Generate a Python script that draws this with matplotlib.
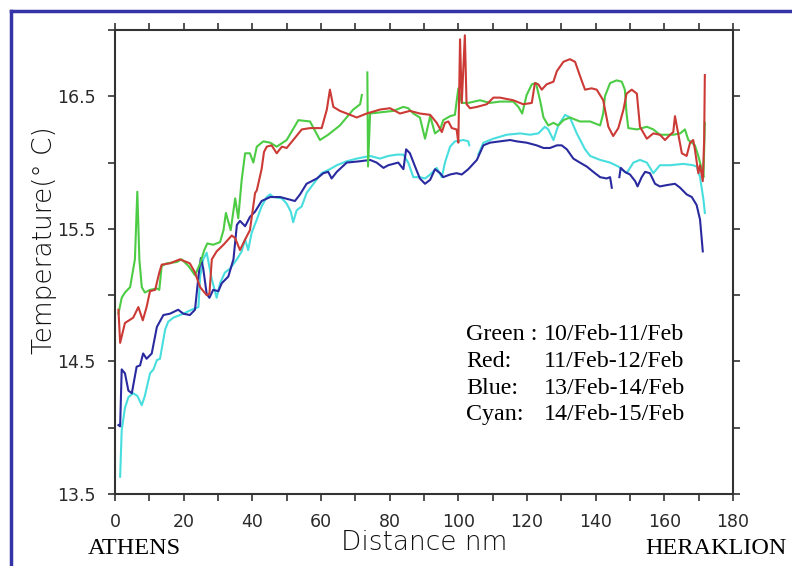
"""Sea surface temperature along the Athens - Heraklion route."""
import numpy as np
import matplotlib
matplotlib.use("Agg")
import matplotlib.pyplot as plt
from matplotlib.lines import Line2D

# distance (nm) / temperature (deg C)
green_x1 = [1.0, 1.95, 2.9, 4.4, 5.8, 6.5, 7.1, 7.8, 8.7, 10.2, 12.2, 12.9, 13.6, 15.1, 18.0,
            19.4, 21.4, 23.3, 24.8, 26.0, 26.9, 28.6, 30.6, 31.6, 32.3, 33.7, 35.0, 35.9, 36.9,
            37.9, 39.3, 40.3, 41.3, 43.2, 45.2, 47.1, 50.0, 53.4, 56.8, 59.7, 62.1, 65.5, 69.4,
            71.4, 71.9]
green_y1 = [14.86, 14.98, 15.02, 15.06, 15.27, 15.78, 15.27, 15.06, 15.02, 15.04, 15.05, 15.04,
            15.22, 15.24, 15.25, 15.27, 15.22, 15.15, 15.24, 15.34, 15.39, 15.38, 15.40, 15.49,
            15.62, 15.49, 15.73, 15.58, 15.87, 16.07, 16.07, 16.00, 16.12, 16.16, 16.15, 16.12,
            16.17, 16.32, 16.31, 16.17, 16.21, 16.28, 16.40, 16.44, 16.51]
green_x2 = [73.5, 73.7, 74.3, 81.1, 84.0, 85.4, 86.9, 88.8, 90.3, 91.8, 93.2, 94.7, 95.6, 97.6,
            99.0, 100.0, 101.0, 102.9, 106.3, 109.2, 112.1, 116.0, 117.5, 118.6, 119.9, 121.4,
            122.6, 123.8, 124.8, 126.2, 127.7, 129.1, 130.6, 132.5, 135.4, 138.4, 141.3, 142.2,
            142.7, 144.2, 146.1, 147.6, 148.5, 149.0, 149.5, 152.0, 154.9, 156.8, 158.7, 162.6,
            164.6, 166.0, 167.0, 168.0, 168.9, 169.9, 170.9, 171.4, 171.8]
green_y2 = [16.68, 15.97, 16.37, 16.39, 16.42, 16.41, 16.37, 16.34, 16.18, 16.35, 16.22, 16.25,
            16.32, 16.35, 16.36, 16.56, 16.45, 16.45, 16.47, 16.45, 16.46, 16.46, 16.42, 16.37,
            16.51, 16.59, 16.60, 16.47, 16.34, 16.28, 16.30, 16.28, 16.32, 16.34, 16.31, 16.31,
            16.28, 16.37, 16.50, 16.60, 16.62, 16.61, 16.55, 16.37, 16.26, 16.25, 16.27, 16.25,
            16.21, 16.21, 16.22, 16.25, 16.17, 16.15, 16.13, 16.05, 15.95, 15.89, 16.30]

red_x = [1.0, 1.5, 2.9, 5.3, 6.8, 8.1, 9.2, 10.2, 11.7, 12.9, 13.6, 16.0, 18.9, 21.8, 23.3,
         24.8, 26.7, 27.5, 28.2, 29.6, 31.6, 34.0, 35.0, 36.4, 37.9, 39.3, 40.8, 41.3, 42.7,
         43.4, 44.2, 45.6, 47.1, 48.6, 50.0, 51.9, 54.4, 56.8, 60.2, 61.7, 62.6, 63.6, 65.5,
         68.5, 70.4, 73.3, 77.2, 80.1, 83.0, 85.9, 88.8, 91.8, 93.7, 95.2, 96.1, 97.1, 98.1,
         99.5, 100.0, 100.5, 101.0, 101.9, 102.4, 103.4, 105.4, 108.3, 110.2, 112.1, 116.0,
         118.9, 121.4, 122.3, 123.3, 124.3, 125.7, 127.7, 128.7, 130.6, 132.5, 134.0, 135.9,
         136.9, 138.8, 140.3, 142.2, 143.7, 145.1, 146.6, 148.1, 149.0, 150.5, 152.0, 152.9,
         154.9, 156.8, 158.7, 160.2, 161.7, 162.6, 163.1, 164.1, 165.1, 166.5, 167.5, 168.4,
         168.9, 169.9, 170.4, 171.2, 171.6, 171.8]
red_y = [14.89, 14.64, 14.79, 14.83, 14.91, 14.81, 14.91, 15.03, 15.04, 15.17, 15.23, 15.24,
         15.27, 15.24, 15.17, 15.06, 15.00, 15.01, 15.27, 15.33, 15.38, 15.45, 15.43, 15.34,
         15.42, 15.49, 15.77, 15.79, 15.95, 16.08, 16.12, 16.13, 16.07, 16.12, 16.11, 16.17,
         16.25, 16.26, 16.26, 16.40, 16.55, 16.42, 16.39, 16.36, 16.34, 16.37, 16.40, 16.41,
         16.37, 16.39, 16.37, 16.36, 16.30, 16.23, 16.30, 16.31, 16.26, 16.25, 16.15, 16.93,
         16.45, 16.96, 16.44, 16.41, 16.42, 16.44, 16.49, 16.49, 16.47, 16.44, 16.45, 16.60,
         16.59, 16.55, 16.59, 16.61, 16.69, 16.76, 16.78, 16.76, 16.62, 16.55, 16.56, 16.55,
         16.47, 16.27, 16.20, 16.26, 16.40, 16.52, 16.55, 16.52, 16.27, 16.18, 16.22, 16.21,
         16.17, 16.21, 16.23, 16.35, 16.21, 16.07, 16.05, 16.15, 16.17, 16.10, 15.92, 15.98,
         15.86, 16.17, 16.66]

blue_x1 = [1.0, 1.5, 1.95, 2.9, 3.9, 4.9, 6.3, 7.3, 8.2, 9.2, 10.7, 12.2, 14.1, 16.0, 18.4,
           19.9, 21.8, 23.3, 24.3, 25.0, 25.7, 26.7, 27.5, 28.6, 30.1, 31.1, 33.0, 34.5, 35.5,
           36.4, 37.9, 39.3, 40.8, 42.7, 45.2, 48.1, 51.0, 52.4, 53.9, 55.8, 57.3, 58.8, 60.7,
           62.1, 63.1, 64.6, 67.5, 71.4, 74.3, 76.2, 78.2, 79.6, 82.5, 84.0, 84.8, 85.9, 87.4,
           88.8, 90.3, 91.8, 93.2, 94.7, 95.6, 97.6, 99.5, 101.0, 102.9, 105.4, 107.3, 109.2,
           112.1, 115.1, 117.0, 119.9, 122.8, 124.8, 126.7, 128.7, 130.1, 131.6, 133.5, 135.4,
           137.4, 139.3, 141.3, 143.2, 144.2, 144.7]
blue_y1 = [14.02, 14.01, 14.44, 14.41, 14.28, 14.26, 14.46, 14.47, 14.56, 14.52, 14.56, 14.76,
           14.85, 14.86, 14.89, 14.86, 14.85, 14.89, 15.14, 15.28, 15.20, 15.01, 14.98, 15.04,
           15.03, 15.09, 15.14, 15.27, 15.53, 15.56, 15.52, 15.59, 15.63, 15.71, 15.74, 15.74,
           15.72, 15.71, 15.76, 15.84, 15.86, 15.88, 15.92, 15.93, 15.88, 15.93, 16.00, 16.01,
           16.02, 16.00, 15.96, 15.98, 16.00, 15.95, 16.10, 16.07, 15.97, 15.88, 15.84, 15.87,
           15.95, 15.92, 15.89, 15.91, 15.92, 15.91, 15.95, 16.02, 16.13, 16.15, 16.16, 16.17,
           16.16, 16.15, 16.13, 16.11, 16.11, 16.13, 16.13, 16.10, 16.03, 16.00, 15.97, 15.93,
           15.89, 15.88, 15.89, 15.81]
blue_x2 = [146.9, 147.3, 148.5, 150.0, 151.5, 152.2, 153.4, 154.4, 155.8, 157.3, 158.7, 160.7,
           163.1, 164.6, 166.5, 168.0, 169.4, 170.4, 171.2]
blue_y2 = [15.89, 15.96, 15.93, 15.91, 15.86, 15.82, 15.89, 15.93, 15.92, 15.84, 15.82, 15.83,
           15.84, 15.81, 15.76, 15.74, 15.68, 15.57, 15.33]

cyan_x1 = [1.5, 1.95, 2.9, 3.9, 5.3, 6.5, 7.8, 8.7, 10.2, 11.2, 12.2, 13.1, 14.6, 15.5, 17.0,
           19.9, 22.3, 24.3, 24.8, 25.7, 26.7, 28.2, 29.6, 30.6, 32.0, 33.5, 35.5, 36.9, 37.9,
           38.8, 39.8, 41.3, 42.7, 44.2, 45.2, 46.1, 48.6, 50.0, 51.2, 51.9, 52.9, 54.4, 55.8,
           57.8, 60.2, 62.6, 64.6, 67.5, 70.4, 74.3, 77.2, 79.6, 82.1, 84.0, 85.4, 86.9, 88.8,
           90.3, 91.8, 93.7, 95.2, 96.1, 97.6, 99.0, 101.5, 102.9, 103.2]
cyan_y1 = [13.63, 13.98, 14.15, 14.23, 14.26, 14.24, 14.17, 14.24, 14.41, 14.44, 14.51, 14.52,
           14.74, 14.80, 14.83, 14.86, 14.89, 14.91, 15.14, 15.27, 15.32, 15.12, 14.98, 15.09,
           15.17, 15.20, 15.27, 15.33, 15.42, 15.34, 15.47, 15.57, 15.67, 15.74, 15.76, 15.74,
           15.73, 15.69, 15.63, 15.55, 15.64, 15.67, 15.77, 15.84, 15.92, 15.95, 15.98, 16.01,
           16.03, 16.05, 16.03, 16.05, 16.06, 16.06, 16.00, 15.89, 15.89, 15.88, 15.91, 15.96,
           15.89, 16.00, 16.12, 16.16, 16.17, 16.16, 16.13]
cyan_x2 = [105.8, 107.3, 110.2, 114.1, 118.0, 120.9, 123.3, 125.2, 126.2, 127.7, 129.1, 131.1,
           132.5, 134.5, 136.9, 138.4, 141.3, 144.2, 146.6, 149.0, 151.0, 152.9, 154.9, 156.8,
           158.7, 161.7, 165.5, 168.4, 169.4, 170.4, 171.4, 171.8]
cyan_y2 = [16.06, 16.15, 16.18, 16.21, 16.22, 16.21, 16.22, 16.27, 16.25, 16.17, 16.28, 16.36,
           16.34, 16.22, 16.10, 16.05, 16.02, 16.00, 15.97, 15.92, 16.00, 16.02, 16.00, 15.92,
           15.98, 15.98, 15.99, 15.98, 15.97, 15.89, 15.72, 15.62]

legend_names = ["Green :", "Red:", "Blue:", "Cyan:"]
legend_dates = ["10/Feb-11/Feb", "11/Feb-12/Feb", "13/Feb-14/Feb", "14/Feb-15/Feb"]

GREEN = "#4ccc44"
RED = "#cc3a36"
BLUE = "#2a2aa0"
CYAN = "#48dede"

fig = plt.figure(figsize=(7.92, 5.66), dpi=100)
fig.patch.set_facecolor("white")
ax = fig.add_axes([0.1452, 0.1272, 0.7803, 0.8198])

lw = 1.5
ax.plot(cyan_x1, cyan_y1, color=CYAN, lw=lw)
ax.plot(cyan_x2, cyan_y2, color=CYAN, lw=lw)
ax.plot(blue_x1, blue_y1, color=BLUE, lw=lw)
ax.plot(blue_x2, blue_y2, color=BLUE, lw=lw)
ax.plot(green_x1, green_y1, color=GREEN, lw=lw)
ax.plot(green_x2, green_y2, color=GREEN, lw=lw)
ax.plot(red_x, red_y, color=RED, lw=lw)

ax.set_xlim(0, 180)
ax.set_ylim(13.5, 17.0)
ax.set_xticks(np.arange(0, 181, 20))
ax.set_xticks(np.arange(0, 181, 10), minor=True)
ax.set_yticks([13.5, 14.5, 15.5, 16.5])
ax.set_yticks(np.arange(13.5, 17.01, 0.5), minor=True)
ax.tick_params(which="both", direction="out", top=True, right=True,
               labeltop=False, labelright=False, color="#333333", width=1.2)
ax.tick_params(which="major", length=5, pad=9, labelsize=12.5, labelcolor="#2a2a2a")
ax.tick_params(which="minor", length=5)
for sp in ax.spines.values():
    sp.set_color("#333333")
    sp.set_linewidth(1.5)

fig.text(45 / 792, 1 - 240 / 566, "Temperature(° C)", rotation=90, ha="center", va="center",
         fontsize=19, color="#111111", weight="light")
fig.text(424 / 792, 1 - 543 / 566, "Distance nm", ha="center", va="center",
         fontsize=19, color="#111111", weight="light")

serif = "Liberation Serif"
fig.text(88 / 792, 1 - 548 / 566, "ATHENS", family=serif, fontsize=17.5, va="center")
fig.text(787 / 792, 1 - 548 / 566, "HERAKLION", family=serif, fontsize=17.5, va="center",
         ha="right")

for i, (name, date) in enumerate(zip(legend_names, legend_dates)):
    yy = 1 - (335 + 26.5 * i) / 566
    fig.text(466 / 792, yy, name, family=serif, fontsize=17.3, va="center")
    fig.text(544 / 792, yy, date, family=serif, fontsize=17.3, va="center")

# blue frame around the slide
frame = "#3434a8"
fig.add_artist(Line2D([11 / 792, 1.0], [1 - 11 / 566] * 2, color=frame, lw=2.5))
fig.add_artist(Line2D([11 / 792] * 2, [0.0, 1 - 11 / 566], color=frame, lw=2.5))

plt.savefig("out.png", dpi=100, facecolor="white")
